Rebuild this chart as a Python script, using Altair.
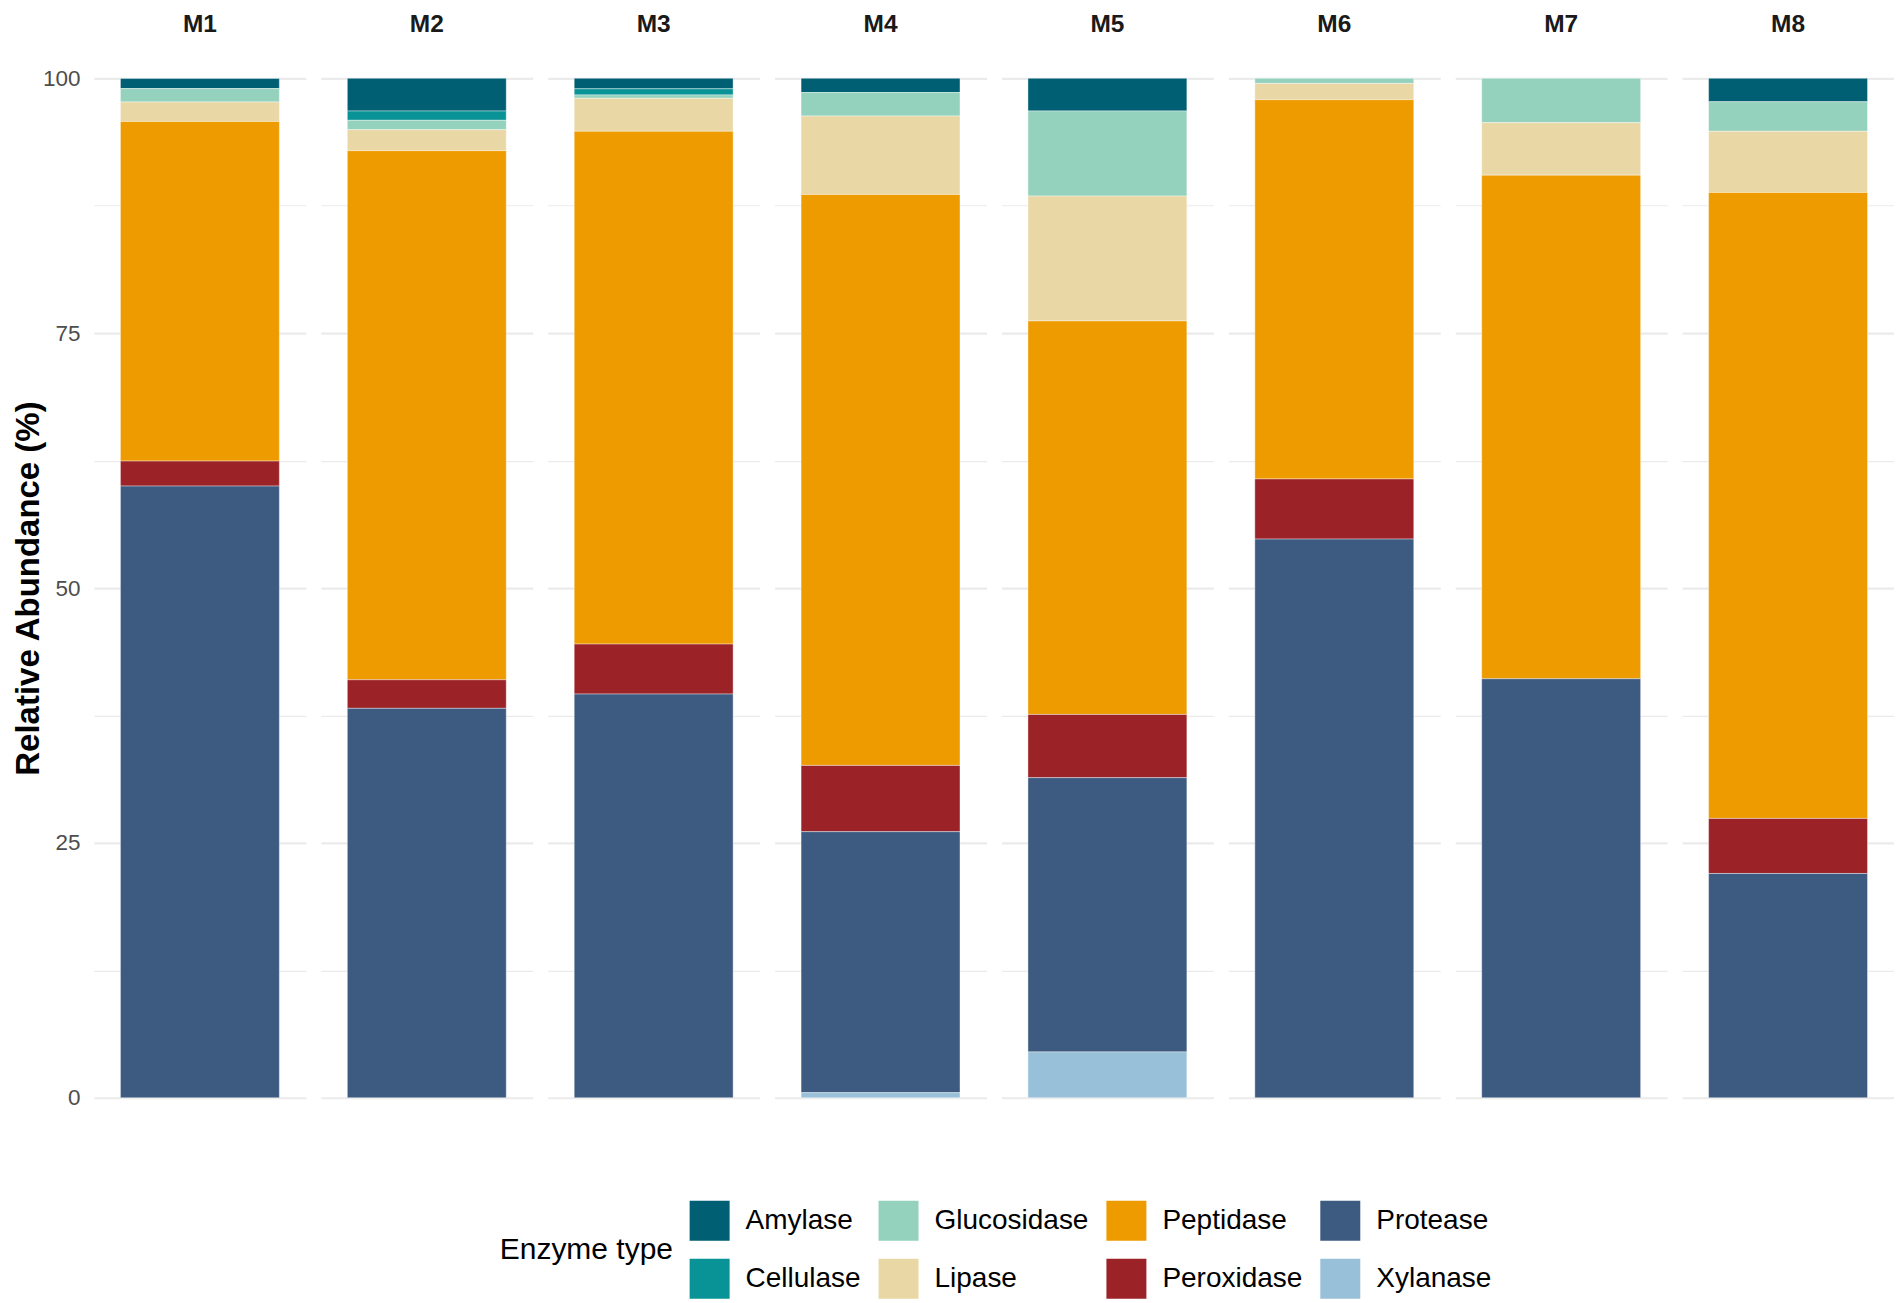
import altair as alt
import pandas as pd

samples = ["M1", "M2", "M3", "M4", "M5", "M6", "M7", "M8"]

# Relative abundance (%) per enzyme type, one value per sample M1..M8
amylase     = [1.00, 3.21, 1.03, 1.40, 3.20, 0.00, 0.00, 2.30]
cellulase   = [0.00, 0.91, 0.60, 0.00, 0.00, 0.00, 0.00, 0.00]
glucosidase = [1.31, 0.92, 0.33, 2.30, 8.35, 0.50, 4.35, 2.90]
lipase      = [1.92, 2.06, 3.24, 7.70, 12.25, 1.60, 5.15, 6.00]
peptidase   = [33.31, 51.90, 50.30, 56.00, 38.60, 37.20, 49.40, 61.40]
peroxidase  = [2.45, 2.80, 4.90, 6.50, 6.20, 5.90, 0.00, 5.40]
protease    = [60.00, 38.20, 39.60, 25.60, 26.90, 54.80, 41.10, 22.00]
xylanase    = [0.00, 0.00, 0.00, 0.50, 4.50, 0.00, 0.00, 0.00]

series = {
    "Amylase": amylase, "Cellulase": cellulase, "Glucosidase": glucosidase,
    "Lipase": lipase, "Peptidase": peptidase, "Peroxidase": peroxidase,
    "Protease": protease, "Xylanase": xylanase,
}
colors = {
    "Amylase": "#005F73", "Cellulase": "#0A9396", "Glucosidase": "#94D2BD",
    "Lipase": "#E9D8A6", "Peptidase": "#EE9B00", "Peroxidase": "#9B2226",
    "Protease": "#3D5A80", "Xylanase": "#98C1D9",
}
# bottom-to-top stacking order
stack_order = ["Xylanase", "Protease", "Peroxidase", "Peptidase",
               "Lipase", "Glucosidase", "Cellulase", "Amylase"]
# legend is filled row by row: this order gives the column-wise layout
legend_order = ["Amylase", "Glucosidase", "Peptidase", "Protease",
                "Cellulase", "Lipase", "Peroxidase", "Xylanase"]

rows = []
for enz, vals in series.items():
    for s, v in zip(samples, vals):
        if v > 0:
            rows.append({"sample": s, "enzyme": enz, "value": v,
                         "rank": stack_order.index(enz)})
df = pd.DataFrame(rows)

FONT = "Liberation Sans"
tick_values = [0, 12.5, 25, 37.5, 50, 62.5, 75, 87.5, 100]

base = alt.Chart(df).mark_bar(stroke="white", strokeWidth=0.4).encode(
    x=alt.X("sample:N", axis=None,
            scale=alt.Scale(paddingInner=0, paddingOuter=1 / 6)),
    y=alt.Y("value:Q", stack="zero",
            scale=alt.Scale(domain=[-5, 105], nice=False, zero=False),
            axis=alt.Axis(
                values=tick_values,
                labelExpr="datum.value % 25 == 0 ? datum.label : ''",
                title="Relative Abundance (%)",
                gridWidth={"condition": {"test": "datum.value % 25 == 0", "value": 2.2},
                           "value": 1.2},
            )),
    color=alt.Color("enzyme:N",
                    scale=alt.Scale(domain=legend_order,
                                    range=[colors[e] for e in legend_order]),
                    legend=alt.Legend(
                        title="Enzyme type", orient="none",
                        legendX=406, legendY=1174,
                        direction="horizontal", columns=4,
                        symbolType="square", symbolSize=1600,
                        symbolStrokeWidth=0,
                        labelFontSize=28, labelFont=FONT, labelColor="black",
                        labelOffset=16, columnPadding=17, rowPadding=18,
                        titleOrient="left", titleFontSize=30, titleFont=FONT,
                        titleFontWeight="normal", titleColor="black",
                        titlePadding=16, titleAnchor="middle",
                        titleBaseline="middle",
                    )),
    order=alt.Order("rank:Q", sort="ascending"),
).properties(width=212, height=1122)

chart = base.facet(
    column=alt.Column("sample:N", sort=samples, title=None,
                      header=alt.Header(labelFontSize=24.5, labelFont=FONT,
                                        labelFontWeight="bold",
                                        labelColor="#1A1A1A",
                                        labelPadding=-10.5)),
    spacing=15,
).resolve_scale(x="independent").configure_view(
    stroke=None
).configure_axis(
    domain=False, ticks=False,
    labelFont=FONT, labelFontSize=22.5, labelColor="#4D4D4D", labelPadding=14,
    titleFont=FONT, titleFontSize=33, titleFontWeight="bold", titleColor="black",
    titlePadding=-3,
    gridColor="#EBEBEB",
).properties(padding={"left": 4, "top": 4, "right": 0, "bottom": 0})

chart.save("out.html", embed_options={"renderer": "svg", "actions": False})
